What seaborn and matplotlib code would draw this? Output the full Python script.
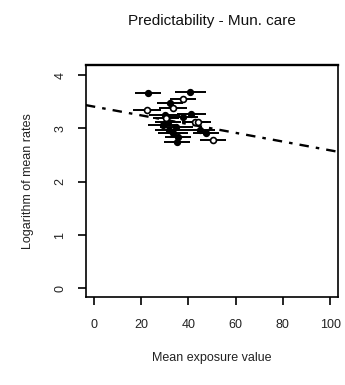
import matplotlib
matplotlib.use("Agg")
import matplotlib.pyplot as plt
import seaborn as sns
import numpy as np
import pandas as pd

# ---- data ----
exposure = [22.9, 40.8, 37.7, 22.5, 32.1, 33.5, 30.0, 41.3, 42.7, 44.0, 31.4,
            29.2, 34.9, 32.0, 33.5, 35.6, 35.0, 44.8, 50.4, 47.6, 30.6, 37.7]
log_rate = [3.66, 3.69, 3.55, 3.35, 3.47, 3.38, 3.25, 3.28, 3.13, 3.13, 3.13,
            3.06, 3.03, 2.97, 2.91, 2.84, 2.75, 2.97, 2.78, 2.91, 3.19, 3.22]
exposure_err = [5.5, 6.5, 5.5, 6.0, 5.5, 6.0, 6.5, 6.0, 5.5, 5.5, 5.5,
                6.5, 7.0, 6.0, 6.5, 5.5, 5.5, 6.5, 5.5, 5.5, 5.5, 6.5]
point_kind = ["filled", "filled", "open", "open", "filled", "open", "filled", "filled",
              "open", "open", "filled", "filled", "filled", "filled", "filled", "filled",
              "filled", "filled", "open", "filled", "open", "filled"]
fit_intercept = 3.41
fit_slope = -0.0082

x_ticks = [0, 20, 40, 60, 80, 100]
y_ticks = [0, 1, 2, 3, 4]
title = "Predictability - Mun. care"
x_label = "Mean exposure value"
y_label = "Logarithm of mean rates"

df = pd.DataFrame({"x": exposure, "y": log_rate, "xerr": exposure_err, "kind": point_kind})

sns.set_style("white")
plt.rcParams["font.family"] = ["Liberation Sans Narrow", "Liberation Sans", "DejaVu Sans"]

fig = plt.figure(figsize=(3.45, 3.85), dpi=100)
ax = fig.add_axes([0.249, 0.229, 0.731, 0.602])

ax.errorbar(df["x"], df["y"], xerr=df["xerr"], fmt="none", ecolor="black",
            elinewidth=1.4, capsize=0, zorder=2)
sns.scatterplot(data=df[df["kind"] == "filled"], x="x", y="y", ax=ax, color="black",
                s=18, marker="o", edgecolor="black", linewidth=1, zorder=3, legend=False)
sns.scatterplot(data=df[df["kind"] == "open"], x="x", y="y", ax=ax, color="white",
                s=18, marker="o", edgecolor="black", linewidth=1.2, zorder=3, legend=False)

ax.axline((0, fit_intercept), slope=fit_slope, color="black", lw=1.7,
          linestyle=(0, (4, 3, 1.5, 3)), zorder=1)

ax.set_xlim(-3.4, 103.4)
ax.set_ylim(-0.16, 4.19)
ax.set_xticks(x_ticks)
ax.set_yticks(y_ticks)
ax.set_xticklabels([str(t) for t in x_ticks], fontsize=9, color="#222222")
ax.set_yticklabels([str(t) for t in y_ticks], fontsize=9, rotation=90, va="center",
                   color="#222222")
ax.tick_params(axis="both", direction="out", length=6, width=1.2, color="black",
               bottom=True, left=True, pad=10)
ax.tick_params(axis="y", pad=8)
for side in ["left", "right", "bottom"]:
    ax.spines[side].set_linewidth(1.2)
    ax.spines[side].set_color("black")
ax.spines["top"].set_linewidth(1.7)
ax.spines["top"].set_color("black")

ax.set_xlabel(x_label, fontsize=9, labelpad=15, color="#222222")
ax.set_ylabel(y_label, fontsize=9, labelpad=15, color="#222222")
ax.set_title(title, fontsize=11, pad=29, color="#111111")

fig.savefig("out.png", dpi=100)
